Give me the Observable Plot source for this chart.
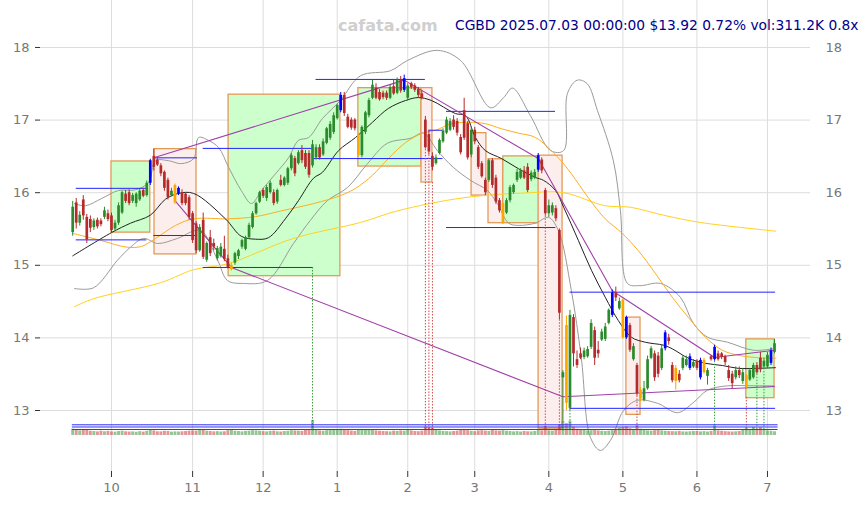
<!DOCTYPE html>
<html><head><meta charset="utf-8">
<script src="https://cdn.jsdelivr.net/npm/d3@7"></script>
<script src="https://cdn.jsdelivr.net/npm/@observablehq/plot@0.6"></script>
<style>
body{margin:0;background:#fff;font-family:"DejaVu Sans",sans-serif;}
#wrap{position:relative;width:868px;height:505px;overflow:hidden;background:#fff;}
#wrap svg{position:absolute;left:0;top:0;}
.t{position:absolute;white-space:nowrap;font-family:"DejaVu Sans",sans-serif;}
</style></head><body>
<div id="wrap"></div>
<script>
// ---- data ----
const monthIdx = [11,34,54,75,95,114,135,156,177,197];
const monthLabels = ["10","11","12","1","2","3","4","5","6","7"];
const yTicks = [13,14,15,16,17,18];

const open = [15.45,15.86,15.58,15.90,15.66,15.63,15.52,15.62,15.61,15.66,15.71,
15.68,15.50,15.58,15.72,15.98,16.00,15.88,15.85,15.90,16.03,15.96,16.13,16.50,16.45,16.37,16.28,16.17,15.96,15.86,15.98,16.00,15.98,15.93,
15.71,15.57,15.20,15.62,15.07,15.38,15.30,15.09,15.12,15.22,15.09,14.94,15.03,15.12,15.25,15.22,15.38,15.52,15.71,15.87,
16.03,15.92,16.00,16.00,15.87,16.17,16.10,16.13,16.33,16.47,16.40,16.58,16.54,16.54,16.37,16.48,16.62,16.52,16.68,16.75,16.83,
17.02,17.13,17.34,17.04,17.00,17.00,16.51,16.51,16.83,17.06,17.30,17.44,17.38,17.37,17.37,17.30,17.46,17.37,17.55,
17.41,17.30,17.50,17.47,17.42,17.36,17.00,16.80,16.50,16.40,16.54,16.70,16.82,16.86,17.00,16.98,16.76,17.13,16.95,16.52,
16.86,16.62,16.40,16.17,16.17,16.44,16.20,15.89,15.58,15.72,15.89,16.00,16.17,16.20,16.30,16.35,16.18,16.20,16.31,16.45,16.03,
15.71,15.72,15.78,15.48,13.45,14.17,13.03,14.28,13.70,13.78,13.73,13.74,13.87,14.10,13.83,13.97,13.98,14.20,14.31,14.62,14.40,
14.52,14.28,14.17,13.70,13.62,13.16,13.14,13.30,13.72,13.78,13.75,13.58,13.85,14.00,13.62,13.40,13.50,13.58,13.62,13.58,13.60,
13.68,13.45,13.52,13.47,13.74,13.70,13.78,13.78,13.74,13.55,13.50,13.45,13.55,13.40,13.32,13.42,13.45,13.62,13.72,13.60,13.60,13.65,13.80];
const high = [15.88,15.92,15.74,15.96,15.70,15.68,15.64,15.65,15.64,15.80,15.76,
15.72,15.62,15.86,16.02,16.03,16.04,15.99,16.00,16.05,16.06,16.16,16.46,16.60,16.48,16.40,16.30,16.20,16.06,16.12,16.08,16.04,16.00,15.96,
15.74,15.60,15.56,15.72,15.32,15.48,15.36,15.26,15.30,15.40,15.14,15.03,15.18,15.22,15.36,15.40,15.58,15.74,15.87,16.02,
16.06,16.10,16.16,16.04,16.05,16.24,16.22,16.35,16.54,16.50,16.58,16.65,16.58,16.58,16.72,16.66,16.66,16.74,16.90,16.98,17.10,
17.22,17.38,17.38,17.08,17.03,17.02,16.82,16.92,17.12,17.30,17.55,17.50,17.42,17.40,17.40,17.48,17.55,17.58,17.60,
17.62,17.50,17.52,17.50,17.45,17.40,17.05,16.86,16.55,16.52,16.74,16.88,17.04,17.02,17.06,17.02,16.80,17.30,16.98,16.90,
16.90,16.65,16.43,16.20,16.46,16.47,16.24,15.92,15.86,15.92,16.10,16.12,16.32,16.33,16.36,16.40,16.30,16.32,16.54,16.48,16.06,
15.90,15.86,15.82,15.50,13.55,14.30,14.38,14.32,13.82,13.86,13.86,13.88,14.25,14.15,13.95,14.12,14.20,14.40,14.66,14.70,14.55,
14.54,14.30,14.20,13.92,13.65,13.32,13.40,13.75,13.88,13.82,13.80,13.90,14.10,14.05,13.66,13.62,13.55,13.75,13.75,13.78,13.70,
13.70,13.72,13.72,13.58,13.76,13.90,13.82,13.80,13.76,13.62,13.54,13.60,13.60,13.58,13.50,13.58,13.65,13.66,13.80,13.72,13.80,13.86,13.98];
const low = [15.40,15.50,15.54,15.62,15.30,15.45,15.48,15.50,15.53,15.63,15.60,
15.44,15.47,15.55,15.70,15.85,15.82,15.85,15.80,15.88,15.93,15.94,16.10,16.30,16.36,16.22,16.02,15.90,15.94,15.84,15.96,15.82,15.82,15.62,
15.30,15.16,15.18,15.08,15.04,15.12,15.20,15.06,15.10,15.05,14.95,14.92,15.00,15.08,15.22,15.20,15.36,15.50,15.69,15.85,
15.92,15.88,15.98,15.82,15.84,16.08,16.08,16.10,16.30,16.22,16.38,16.40,16.32,16.20,16.34,16.45,16.45,16.50,16.66,16.72,16.80,
17.00,17.10,17.05,16.88,16.86,16.85,16.49,16.48,16.80,17.03,17.28,17.28,17.26,17.28,17.27,17.28,17.34,17.35,17.37,
17.38,17.26,17.42,17.38,17.30,17.28,16.60,16.52,16.30,16.38,16.52,16.68,16.80,16.84,16.86,16.78,16.52,16.72,16.45,16.48,
16.66,16.32,16.20,15.96,16.14,16.06,15.84,15.72,15.56,15.70,15.86,15.98,16.14,16.18,16.18,16.00,16.15,16.18,16.28,16.26,15.68,
15.66,15.68,15.60,14.25,12.85,13.00,13.00,13.60,13.58,13.70,13.70,13.72,13.84,13.62,13.72,13.95,13.95,14.18,14.28,14.50,14.38,
13.98,13.98,13.80,13.68,13.20,13.12,13.12,13.28,13.70,13.40,13.45,13.55,13.82,13.90,13.38,13.28,13.38,13.55,13.60,13.55,13.58,
13.55,13.42,13.50,13.35,13.68,13.68,13.68,13.70,13.62,13.40,13.30,13.42,13.44,13.36,13.30,13.40,13.43,13.50,13.52,13.58,13.58,13.62,13.78];
const close = [15.80,15.58,15.69,15.68,15.35,15.51,15.61,15.53,15.56,15.75,15.63,
15.48,15.58,15.82,16.00,15.88,15.85,15.96,15.98,16.02,15.95,16.13,16.44,16.35,16.38,16.26,16.06,15.93,16.02,16.10,16.06,15.85,15.85,15.66,
15.34,15.20,15.52,15.11,15.30,15.16,15.25,15.23,15.25,15.08,14.97,15.00,15.16,15.20,15.34,15.38,15.55,15.71,15.85,16.00,
15.95,16.07,16.13,15.85,16.03,16.10,16.20,16.33,16.51,16.26,16.55,16.44,16.35,16.24,16.66,16.62,16.48,16.70,16.88,16.94,17.06,
17.20,17.34,17.09,16.90,16.89,16.88,16.79,16.90,17.10,17.27,17.48,17.30,17.28,17.31,17.30,17.45,17.36,17.55,17.40,
17.57,17.47,17.45,17.41,17.34,17.30,16.62,16.56,16.35,16.48,16.72,16.85,17.00,16.98,16.90,16.82,16.55,16.75,16.48,16.86,
16.70,16.35,16.22,16.00,16.44,16.10,15.87,15.75,15.85,15.89,16.07,16.10,16.28,16.30,16.20,16.03,16.27,16.28,16.51,16.30,15.71,
15.82,15.82,15.64,14.34,13.52,13.10,14.31,13.78,13.62,13.72,13.82,13.84,14.20,13.72,13.78,14.08,14.15,14.38,14.62,14.55,14.50,
14.00,14.00,13.83,13.88,13.23,13.28,13.30,13.70,13.85,13.45,13.50,13.85,14.07,13.95,13.41,13.58,13.41,13.72,13.70,13.74,13.66,
13.58,13.69,13.69,13.55,13.70,13.87,13.70,13.73,13.66,13.44,13.37,13.55,13.48,13.52,13.48,13.55,13.62,13.52,13.56,13.68,13.76,13.82,13.92];
const volumeK = [520,450,380,420,480,350,330,300,360,310,340,
300,280,330,360,310,290,300,270,320,280,350,
420,380,310,300,350,330,280,300,290,310,330,360,
380,360,420,450,350,330,300,320,290,310,400,480,350,330,300,340,360,400,380,350,
320,300,340,360,310,290,330,350,400,380,360,340,420,480,1250,460,380,350,400,450,420,
480,520,460,400,360,340,420,450,500,480,440,380,350,330,320,300,360,340,380,350,
420,380,330,320,360,700,650,620,450,380,340,320,300,330,360,420,480,400,350,
320,380,400,360,340,420,380,360,400,350,330,300,320,290,340,310,300,330,420,380,750,
380,360,480,900,1150,980,1200,700,520,480,420,380,400,450,380,350,330,360,400,520,600,
650,720,560,480,800,520,420,380,360,400,420,380,350,330,320,310,340,300,290,310,330,
330,300,320,290,340,800,380,350,320,300,290,310,330,420,600,450,680,520,650,420,380,350,311];
const blueBars = [22,30,76,94,132,153,157,168,175,178,182,198];
const orangeBars = [29,45,81,122,140,156,161,171,179,191];
const volLinesK = [500,707,890];

// overlays: [trading-day index, price]
const maShort = [[0,15.13],[11,15.45],[16.4,15.58],[22,15.69],[26.3,15.91],[30,15.99],[34.3,15.99],[43.3,15.64],[47.8,15.40],[51.8,15.36],[55.5,15.38],[60.3,15.64],[64,15.89],[68.3,16.20],[70.8,16.28],[75.4,16.58],[80.2,16.76],[85,16.97],[89.5,17.16],[94.4,17.27],[98,17.31],[101.7,17.27],[108.5,17.09],[111.4,17.06],[114.2,16.76],[117,16.58],[121.6,16.47],[126.4,16.33],[131.2,16.21],[133.5,16.17],[136.9,16.03],[139.2,15.80],[143.4,15.34],[147.1,14.93],[151,14.56],[154.7,14.24],[158.4,14.01],[162.4,13.94],[167.5,13.90],[170,13.85],[174.6,13.72],[179.4,13.65],[184.2,13.62],[188.8,13.58],[193.6,13.58],[199.3,13.59]];
const maMid = [[0,15.44],[8.2,15.34],[15.3,15.25],[19.5,15.26],[23.5,15.37],[29.2,15.55],[34.3,15.64],[44.2,15.64],[51.8,15.67],[59.2,15.75],[68.3,15.85],[75.9,15.96],[80.2,16.06],[85,16.24],[89.5,16.47],[94.4,16.69],[99.2,16.82],[102.9,16.86],[107.4,16.95],[112.2,16.97],[117,16.95],[121.6,16.88],[126.4,16.82],[131.2,16.76],[137.7,16.48],[141.4,16.26],[146.2,15.93],[151,15.64],[155.6,15.45],[160.4,15.20],[165.2,14.89],[170,14.56],[174.6,14.28],[179.4,14.01],[184.2,13.83],[188.8,13.76],[193.6,13.73],[199.3,13.72]];
const maLong = [[0.5,14.43],[5.9,14.54],[24.9,14.76],[34.3,14.94],[43.9,15.02],[62.6,15.37],[81.6,15.59],[92.1,15.75],[110.8,15.93],[129.8,16.0],[139.2,16.0],[151,15.82],[158.1,15.80],[167.5,15.69],[178,15.59],[199.3,15.47]];
const bandUpper = [[0.5,15.85],[3.6,15.82],[8.2,15.92],[13,16.03],[17.8,16.04],[21.5,16.14],[23.5,16.44],[27.2,16.44],[30.8,16.40],[34.3,16.47],[35.7,16.76],[38.5,16.72],[41.4,16.62],[44.2,16.35],[47.8,16.03],[50.7,15.85],[53.5,16.03],[57.5,16.26],[61.2,16.48],[64,16.72],[66.9,16.76],[70.8,17.02],[75.9,17.27],[81.6,17.61],[90.1,17.68],[94.9,17.82],[103.4,17.96],[110,17.82],[118.5,17.17],[122.2,17.31],[124.7,17.44],[129.8,17.06],[135.5,16.58],[139.2,16.58],[140.3,17.37],[143.1,17.55],[145.9,17.50],[148.8,17.13],[153.3,16.44],[155.3,15.75],[157.3,14.75],[160.9,14.72],[166.7,14.75],[172.3,14.56],[176,14.20],[180,14.01],[185.7,13.94],[193,13.83],[198.7,13.85]];
const bandLower = [[0.5,14.68],[5.9,14.69],[12.7,15.07],[16.4,15.25],[20.1,15.37],[24.1,15.30],[29.7,15.37],[36.2,15.48],[41.1,15.07],[43.9,14.79],[48.4,14.75],[55.2,14.79],[62.6,15.30],[67.4,15.62],[72.2,15.89],[77.9,16.07],[83.6,16.40],[89.2,16.68],[95.8,16.75],[99.5,16.82],[103.4,16.58],[107.9,16.35],[112.8,16.17],[117.6,16.03],[120.4,15.85],[123.6,15.58],[126.4,15.55],[131.2,15.58],[134.9,15.66],[137.7,15.48],[141.4,14.65],[144.2,13.73],[146.8,12.63],[149.6,12.45],[152.5,12.59],[156.2,13.0],[160.1,13.14],[165.8,13.10],[171.5,12.97],[176,13.11],[180,13.28],[185.7,13.34],[193,13.34],[198.7,13.34]];
const trendLines = [
  [[23,16.48],[94,17.55]],
  [[29,15.89],[45,14.97]],
  [[45,14.97],[139,13.19],[199,13.33]],
  [[94,17.55],[132,16.47],[153,14.65],[182,13.73],[199,13.83]]
];
const levels = [
  {p:16.06,a:1,b:21},{p:15.35,a:1,b:21},{p:16.48,a:23,b:35.4},{p:15.41,a:23,b:35.4},
  {p:16.61,a:37,b:68.3},{p:14.97,a:37,b:68.3},{p:17.56,a:69,b:100},{p:16.47,a:68.3,b:105},
  {p:16.86,a:101,b:105},{p:17.12,a:106,b:136.9},{p:15.52,a:106,b:137},
  {p:14.63,a:141,b:199.3},{p:13.03,a:141,b:199.3}
];
const boxes = [
  {a:11.0,b:22.0,lo:15.45,hi:16.43,k:"g"},
  {a:23.2,b:35.1,lo:15.15,hi:16.60,k:"p"},
  {a:44.2,b:75.9,lo:14.85,hi:17.35,k:"g"},
  {a:81.0,b:98.9,lo:16.36,hi:17.44,k:"g"},
  {a:98.9,b:102.0,lo:16.14,hi:17.44,k:"p"},
  {a:113.1,b:117.3,lo:15.96,hi:16.82,k:"p"},
  {a:117.9,b:122.1,lo:15.58,hi:16.46,k:"p"},
  {a:122.1,b:132.3,lo:15.58,hi:16.50,k:"g"},
  {a:132.1,b:138.9,lo:12.75,hi:16.51,k:"p"},
  {a:157.0,b:161.0,lo:12.94,hi:14.28,k:"p"},
  {a:191.0,b:199.0,lo:13.17,hi:13.98,k:"g"}
];
const signals = [[68,"g",14.97],[100,"r",16.72],[101,"r",16.52],[102,"r",16.14],[134,"r",15.68],[138,"r",14.25],[139,"g",12.85],[141,"g",13.0],[160,"r",13.2],[182,"g",13.68],[191,"r",13.18],[194,"g",13.5],[196,"g",13.58]];
const signalEnd = 12.72;

// ---- build ----
const candles = close.map((c,i)=>({i, o:open[i], h:high[i], l:low[i], c, v:volumeK[i]*1000,
  k: blueBars.includes(i) ? "b" : orangeBars.includes(i) ? "o" : (c >= open[i] ? "g" : "r")}));
const col = {g:"#2b8a2b", r:"#b52a2a", b:"#0000ff", o:"#ffa500"};
const W = 868, H = 505;
const xDomain = [-9.13, 209.2];
const common = {width:W, height:H, marginLeft:40, marginRight:58, marginTop:0, marginBottom:34};

const main = Plot.plot({
  ...common,
  x: {domain: xDomain},
  y: {domain: [12.16, 18.647]},
  style: {fontFamily: "DejaVu Sans", fontSize: "13px", background: "transparent"},
  marks: [
    Plot.ruleX(monthIdx, {stroke:"#dddddd"}),
    Plot.ruleY(yTicks, {stroke:"#dddddd"}),
    Plot.axisY({ticks: yTicks, anchor:"left", tickSize:5, tickPadding:6, stroke:"#333", fill:"#777", fontSize:13, tickFormat: d => String(d)}),
    Plot.axisY({ticks: yTicks, anchor:"right", tickSize:0, tickPadding:15, fill:"#777", fontSize:13, tickFormat: d => String(d)}),
    Plot.axisX({ticks: monthIdx, anchor:"bottom", tickSize:6, tickPadding:5, stroke:"#333", fill:"#777", fontSize:13, tickFormat: d => monthLabels[monthIdx.indexOf(d)]}),
    Plot.rect(boxes, {x1:"a", x2:"b", y1:"lo", y2:"hi", fill: d => d.k==="g" ? "#ccffcc" : "#fdeeee", stroke:"#e39a58", strokeWidth:1.3}),
    Plot.line(bandUpper, {x: d=>d[0], y: d=>d[1], stroke:"#9a9a9a", strokeWidth:1, curve:"catmull-rom"}),
    Plot.line(bandLower, {x: d=>d[0], y: d=>d[1], stroke:"#9a9a9a", strokeWidth:1, curve:"catmull-rom"}),
    Plot.line(maLong, {x: d=>d[0], y: d=>d[1], stroke:"#ffd21f", strokeWidth:1, curve:"catmull-rom"}),
    Plot.line(maMid, {x: d=>d[0], y: d=>d[1], stroke:"#ffad1f", strokeWidth:1, curve:"catmull-rom"}),
    Plot.line(maShort, {x: d=>d[0], y: d=>d[1], stroke:"#222", strokeWidth:1, curve:"catmull-rom"}),
    Plot.ruleY(levels, {y:"p", x1:"a", x2:"b", stroke:"#2222ff", strokeWidth:1}),
    ...trendLines.map(t => Plot.line(t, {x: d=>d[0], y: d=>d[1], stroke:"#a040a8", strokeWidth:1.1})),
    Plot.ruleX(signals, {x: d=>d[0], y1: d=>d[2], y2: signalEnd, stroke: d => d[1]==="g" ? "#3a9a3a" : "#d04848", strokeWidth:1, strokeDasharray:"1.5,1.5"}),
    Plot.ruleX(candles, {x:"i", y1:"l", y2:"h", stroke: d => col[d.k], strokeWidth:1}),
    Plot.ruleX(candles, {x:"i", y1:"o", y2:"c", stroke: d => col[d.k], strokeWidth:2.7})
  ]
});

const vol = Plot.plot({
  ...common,
  x: {domain: xDomain, axis: null},
  y: {domain: [0, 1330000], range: [435, 419], axis: null},
  style: {background: "transparent"},
  marks: [
    Plot.ruleX(candles, {x:"i", y1:0, y2:"v", stroke: d => d.c >= d.o ? "#2b8a2b" : "#c43030", strokeOpacity:0.5, strokeWidth:2.9}),
    Plot.ruleY(volLinesK, {y: d => d*1000, x1: -0.1, x2: 200, stroke:"#3030ff", strokeWidth:1})
  ]
});

const wrap = document.getElementById("wrap");
wrap.appendChild(main);
wrap.appendChild(vol);
vol.style.pointerEvents = "none";

const wm = document.createElement("div");
wm.className = "t";
wm.textContent = "cafata.com";
wm.style.cssText += "left:338px;top:16px;font-size:16px;font-weight:bold;color:#cfcfcf;";
wrap.appendChild(wm);
const ttl = document.createElement("div");
ttl.className = "t";
ttl.textContent = "CGBD 2025.07.03 00:00:00 $13.92 0.72% vol:311.2K 0.8x";
ttl.style.cssText += "left:455px;top:17px;font-size:13.8px;color:#00008b;";
wrap.appendChild(ttl);
</script>
</body></html>
